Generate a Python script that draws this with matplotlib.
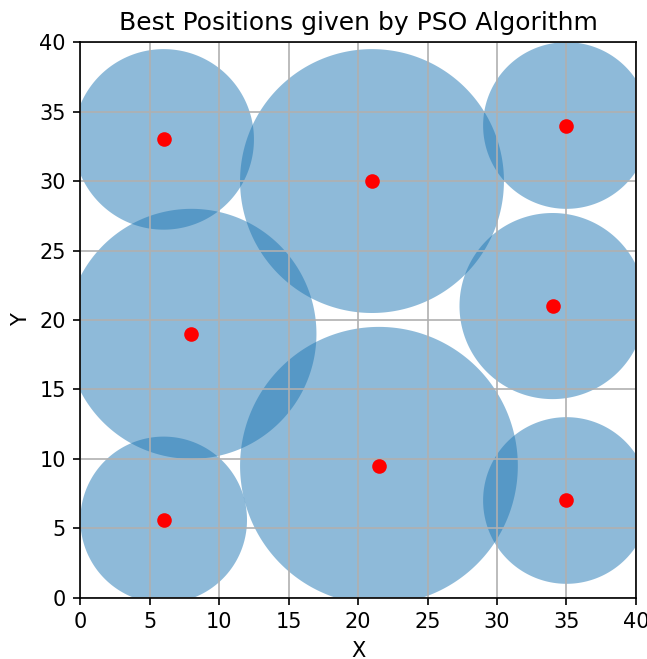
import numpy as np
import matplotlib.pyplot as plt
from matplotlib.patches import Polygon

# best positions found and the radius of each circle
x_pos = [6, 21, 35, 8, 34, 21.5, 6, 35]
y_pos = [33, 30, 34, 19, 21, 9.5, 5.6, 7]
radii = [6.5, 9.5, 6, 9, 6.7, 10, 6, 6]

xmin, xmax, ymin, ymax = 0, 40, 0, 40

fig, ax = plt.subplots(figsize=(647 / 150, 659 / 150), dpi=150)
fig.subplots_adjust(left=0.124, right=0.983, bottom=0.093, top=0.936)

# circles cut at the plot border (clamp outline points to the box)
t = np.linspace(0, 2 * np.pi, 400)
for x, y, r in zip(x_pos, y_pos, radii):
    cx = np.clip(x + r * np.cos(t), xmin, xmax)
    cy = np.clip(y + r * np.sin(t), ymin, ymax)
    ax.add_patch(Polygon(np.column_stack([cx, cy]), closed=True,
                         color='#1f77b4', alpha=0.5, lw=0))

ax.scatter(x_pos, y_pos, color='red', s=36, zorder=3)

ax.set_xlim(xmin, xmax)
ax.set_ylim(ymin, ymax)
ax.set_aspect('equal')
ax.set_xlabel('X')
ax.set_ylabel('Y')
ax.set_title('Best Positions given by PSO Algorithm')
ax.grid(True)

plt.savefig('out.png')
